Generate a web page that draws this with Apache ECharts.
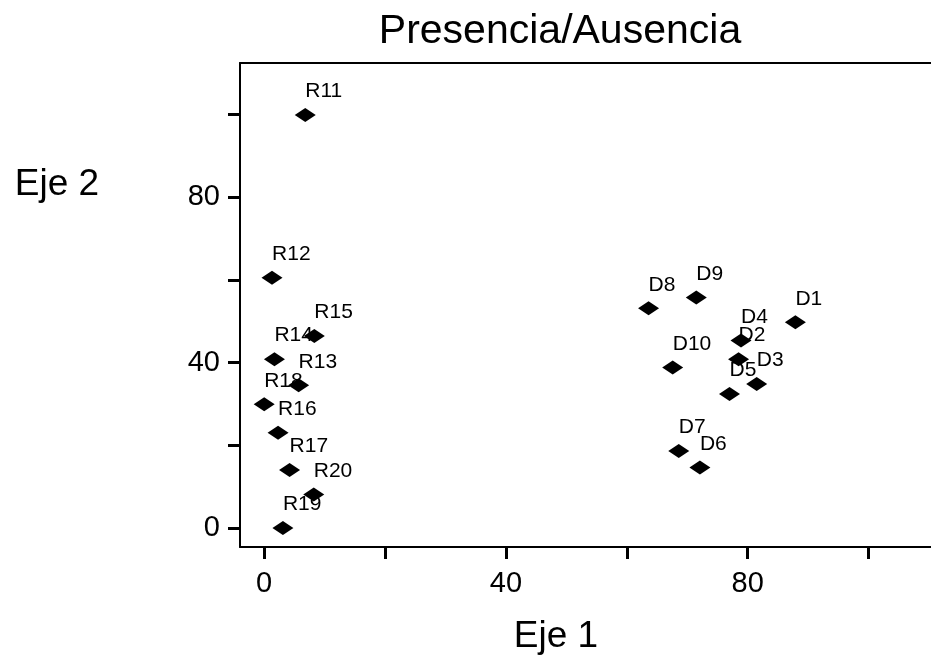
<!DOCTYPE html>
<html>
<head>
<meta charset="utf-8">
<script src="https://cdn.jsdelivr.net/npm/echarts@6/dist/echarts.min.js"></script>
<style>html,body{margin:0;padding:0;background:#fff;}#chart{width:931px;height:662px;}</style>
</head>
<body>
<div id="chart"></div>
<script>
// Point labels
const names = ["R11","R12","R15","R14","R13","R18","R16","R17","R20","R19",
               "D1","D8","D9","D4","D2","D10","D3","D5","D7","D6"];
// Eje 1 values
const eje1 = [6.8, 1.3, 8.3, 1.7, 5.7, 0.0, 2.3, 4.2, 8.2, 3.1,
              87.9, 63.6, 71.5, 78.9, 78.5, 67.6, 81.5, 77.0, 68.6, 72.1];
// Eje 2 values
const eje2 = [99.8, 60.5, 46.4, 40.8, 34.5, 29.9, 23.0, 14.0, 8.1, 0.0,
              49.7, 53.1, 55.7, 45.3, 40.8, 38.8, 34.8, 32.4, 18.6, 14.6];
const tickValues = [0, 20, 40, 60, 80, 100];
const labelValues = [0, 40, 80];
const titleText = "Presencia/Ausencia";
const xName = "Eje 1";
const yName = "Eje 2";

const FONT = "'Liberation Sans', Arial, sans-serif";
const data = names.map((n, i) => ({ name: n, value: [eje1[i], eje2[i]] }));

const chart = echarts.init(document.getElementById('chart'), null, { renderer: 'canvas' });
chart.setOption({
  backgroundColor: '#ffffff',
  animation: false,
  grid: {
    left: 240, top: 63, width: 695, height: 484,
    outerBoundsMode: 'none', containLabel: false, show: false
  },
  xAxis: [{
    type: 'value', min: -4, max: 111, position: 'bottom',
    splitLine: { show: false },
    axisLine: { show: true, onZero: false, lineStyle: { color: '#000', width: 2 } },
    axisTick: { show: true, inside: false, length: 12, customValues: tickValues, lineStyle: { color: '#000', width: 3 } },
    axisLabel: { show: true, customValues: labelValues, margin: 22, color: '#000', fontSize: 29, fontFamily: FONT }
  }, {
    type: 'value', min: -4, max: 111, position: 'top',
    splitLine: { show: false },
    axisLine: { show: true, onZero: false, lineStyle: { color: '#000', width: 2 } },
    axisTick: { show: false },
    axisLabel: { show: false }
  }],
  yAxis: {
    type: 'value', min: -4.6, max: 112.4,
    splitLine: { show: false },
    axisLine: { show: true, onZero: false, lineStyle: { color: '#000', width: 2 } },
    axisTick: { show: true, inside: false, length: 12, customValues: tickValues, lineStyle: { color: '#000', width: 3 } },
    axisLabel: { show: true, customValues: labelValues, margin: 20, color: '#000', fontSize: 29, fontFamily: FONT }
  },
  graphic: [
    { type: 'text', x: 560, y: 32, style: { text: titleText, font: '41px ' + FONT, fill: '#000', align: 'center', verticalAlign: 'middle', textAlign: 'center', textVerticalAlign: 'middle' } },
    { type: 'text', x: 556, y: 637, style: { text: xName, font: '37px ' + FONT, fill: '#000', align: 'center', verticalAlign: 'middle', textAlign: 'center', textVerticalAlign: 'middle' } },
    { type: 'text', x: 57, y: 185, style: { text: yName, font: '37px ' + FONT, fill: '#000', align: 'center', verticalAlign: 'middle', textAlign: 'center', textVerticalAlign: 'middle' } }
  ],
  series: [{
    type: 'scatter',
    xAxisIndex: 0,
    data: data,
    symbol: 'diamond',
    symbolSize: [21, 14],
    itemStyle: { color: '#000', opacity: 1 },
    label: {
      show: true,
      formatter: p => p.name,
      position: 'top',
      distance: 4,
      align: 'left',
      offset: [0, -2],
      color: '#000',
      opacity: 1,
      fontSize: 21,
      fontFamily: FONT
    }
  }]
});
</script>
</body>
</html>
